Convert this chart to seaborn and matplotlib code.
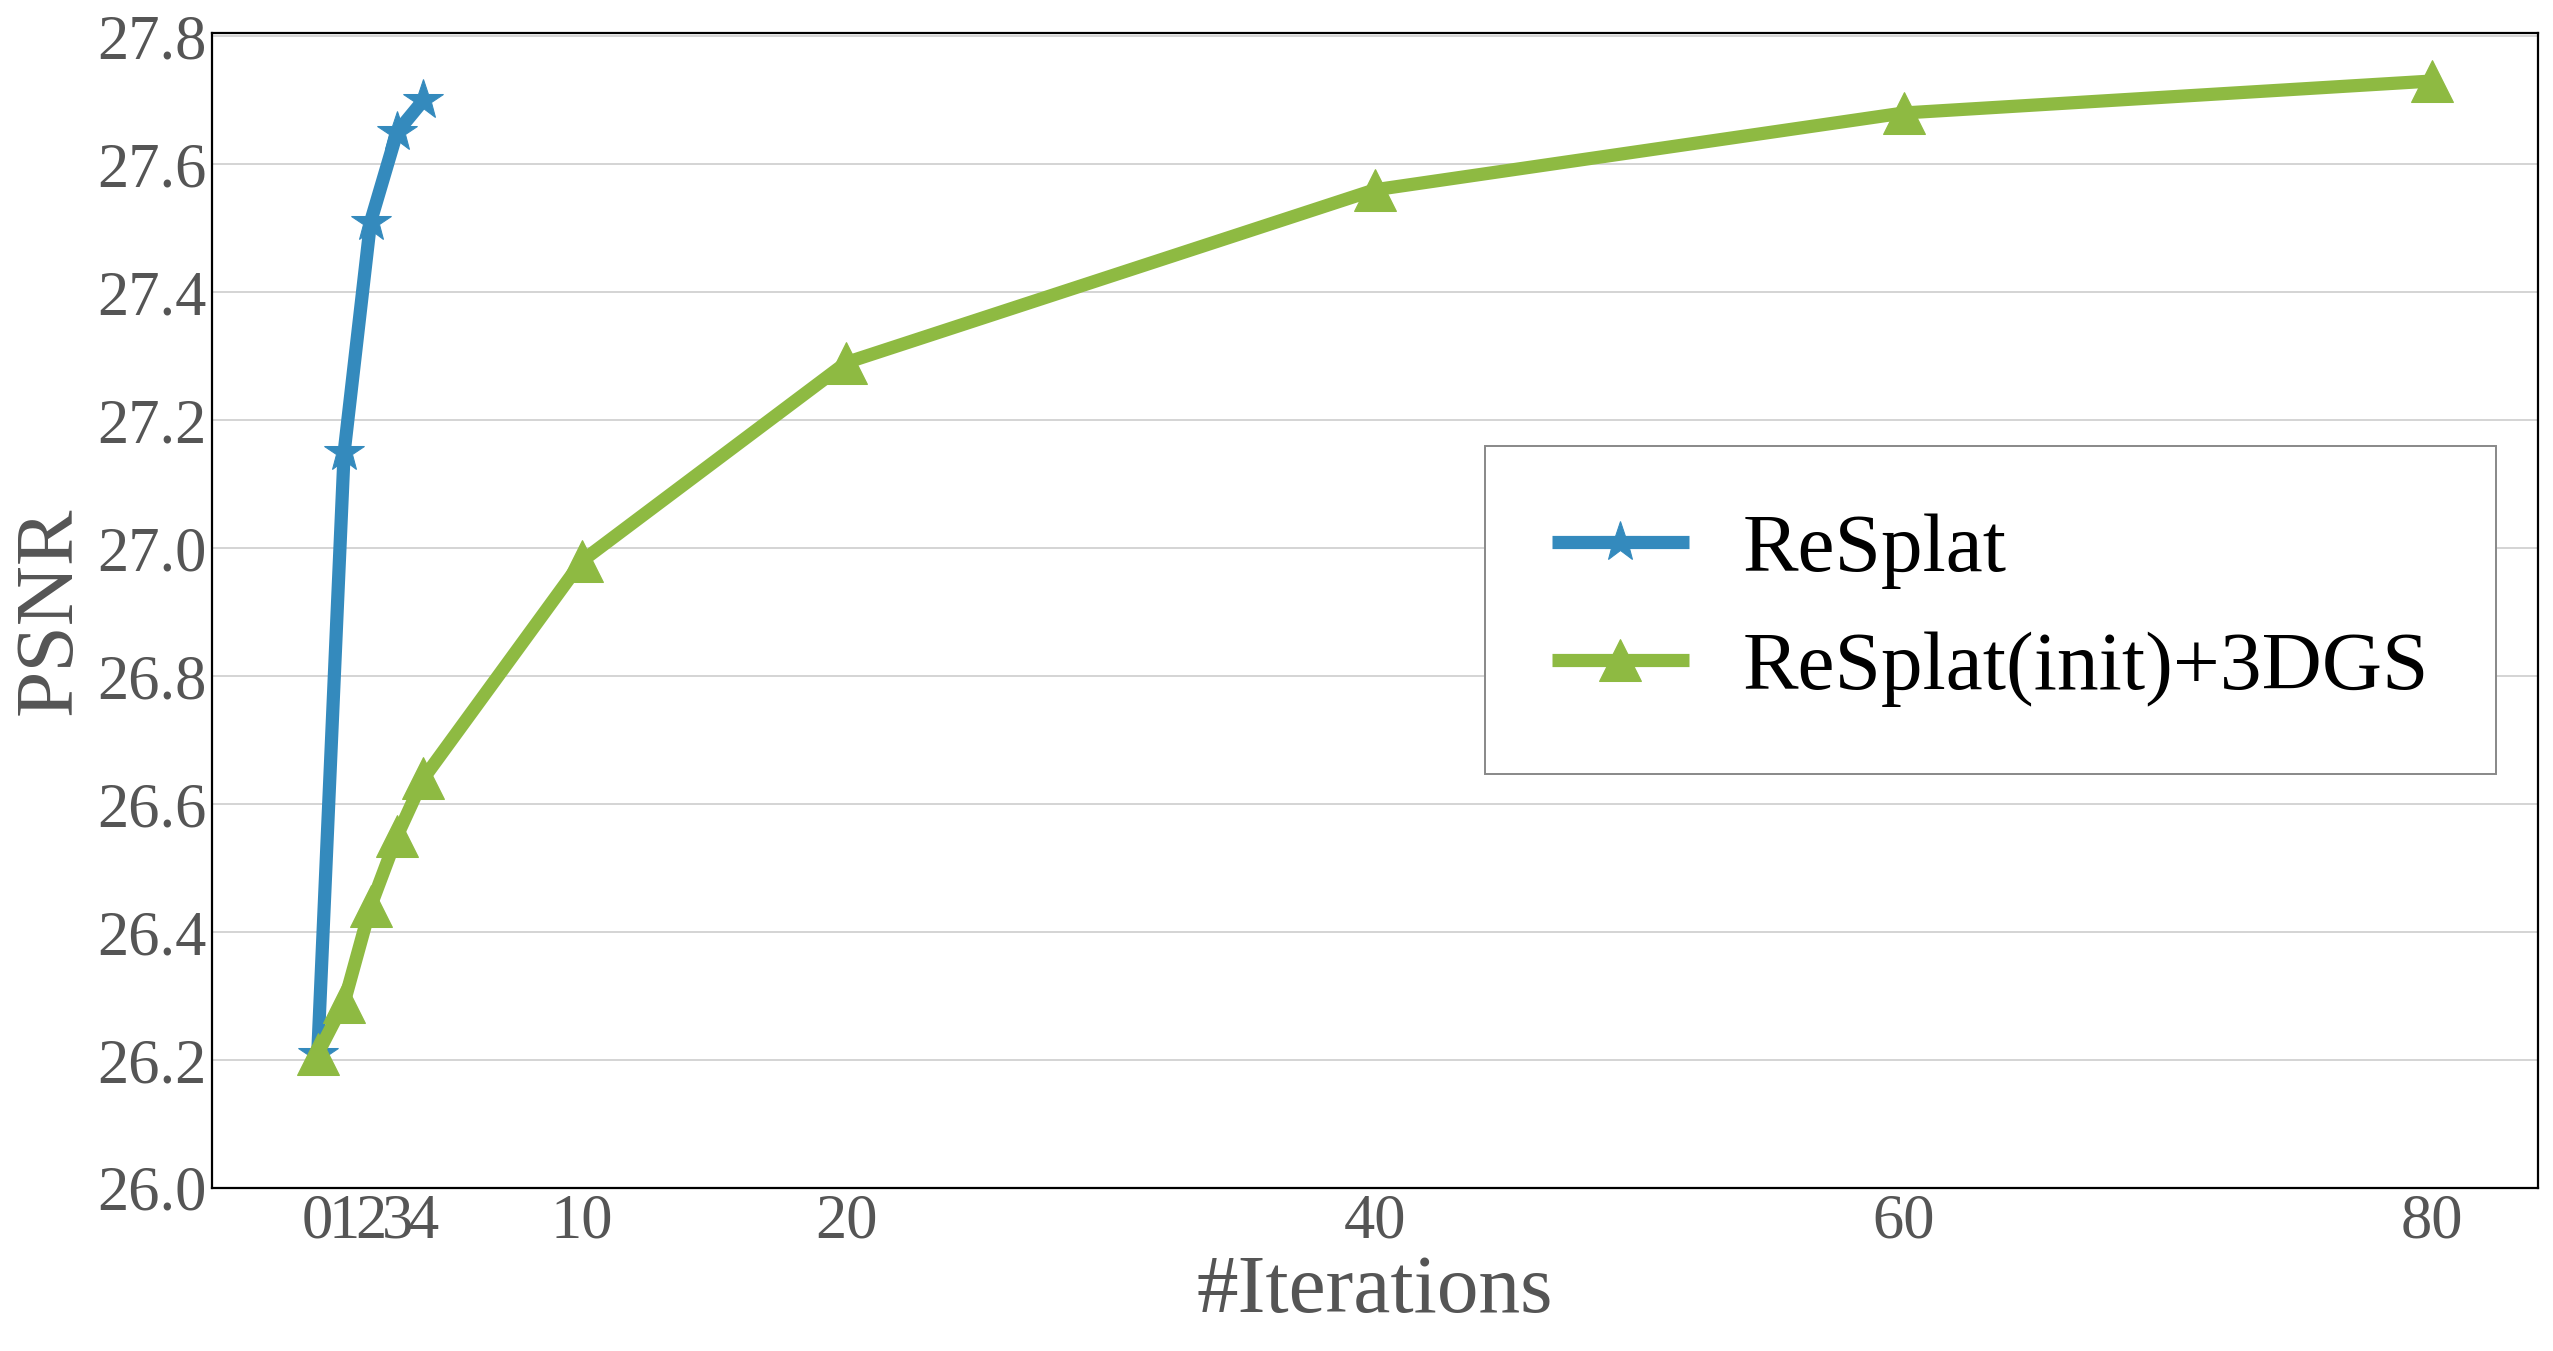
import matplotlib
matplotlib.use('Agg')
import matplotlib.pyplot as plt
import pandas as pd
import seaborn as sns

# Data
resplat_iters = [0, 1, 2, 3, 4]
resplat_psnr = [26.21, 27.15, 27.51, 27.65, 27.70]

gs_iters = [0, 1, 2, 3, 4, 10, 20, 40, 60, 80]
gs_psnr = [26.21, 26.29, 26.44, 26.55, 26.64, 26.98, 27.29, 27.56, 27.68, 27.73]

x_ticks = [0, 1, 2, 3, 4, 10, 20, 40, 60, 80]
y_ticks = [26.0, 26.2, 26.4, 26.6, 26.8, 27.0, 27.2, 27.4, 27.6, 27.8]

sns.set_style('whitegrid')
plt.rcParams['font.family'] = ['Liberation Serif', 'DejaVu Serif']

blue = '#348ABD'
green = '#8EBA42'
gray_text = '#555555'

fig = plt.figure(figsize=(25.53, 13.51), dpi=100, facecolor='white')
ax = fig.add_axes([212 / 2553, 1 - 1188 / 1351, (2538 - 212) / 2553, (1188 - 33) / 1351])

sns.lineplot(x=resplat_iters, y=resplat_psnr, ax=ax, color=blue, marker='*',
             markersize=30, linewidth=9.5, markeredgecolor=blue,
             solid_capstyle='butt', label='ReSplat')
sns.lineplot(x=gs_iters, y=gs_psnr, ax=ax, color=green, marker='^',
             markersize=30, linewidth=9.5, markeredgecolor=green,
             solid_capstyle='butt', label='ReSplat(init)+3DGS')

ax.set_xlim(-4, 84)
ax.set_ylim(26.0, 27.805)
ax.set_xticks(x_ticks)
ax.set_yticks(y_ticks)
ax.set_yticklabels([f'{v:.1f}' for v in y_ticks])

ax.grid(axis='x', visible=False)
ax.grid(axis='y', color='#d4d4d4', linewidth=1.4)
for s in ax.spines.values():
    s.set_color('black')
    s.set_linewidth(1.6)

ax.tick_params(axis='both', direction='in', length=6, width=1, colors=gray_text,
               labelsize=45, labelcolor=gray_text, pad=4)
ax.set_xlabel('#Iterations', fontsize=60, color=gray_text, labelpad=2)
ax.set_ylabel('PSNR', fontsize=60, color=gray_text, labelpad=6)

leg = ax.legend(loc='upper left', bbox_to_anchor=(1485 / 2553, 1 - 446 / 1351),
                bbox_transform=fig.transFigure, fontsize=60, frameon=True,
                fancybox=False, edgecolor='#888888', framealpha=1,
                borderpad=0.8, labelspacing=0.5, handlelength=1.65,
                handletextpad=0.64, borderaxespad=0)
leg.get_frame().set_linewidth(1.4)
for t in leg.get_texts():
    t.set_color('black')

fig.savefig('out.png', dpi=100, facecolor='white')
